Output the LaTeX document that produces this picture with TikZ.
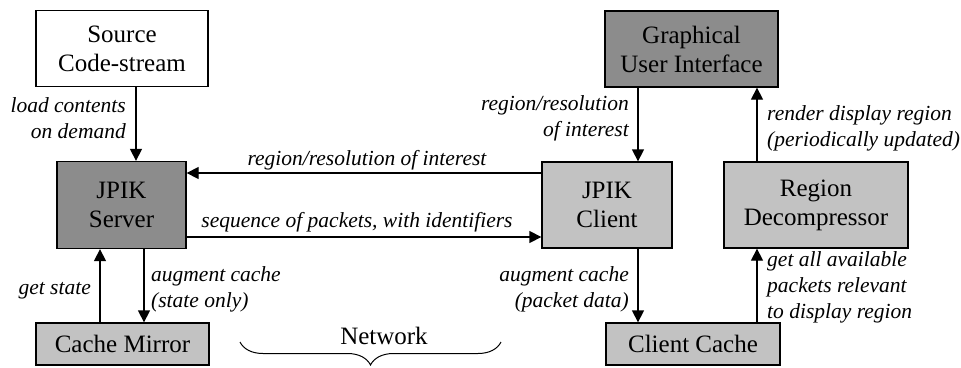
\documentclass[tikz,border=0pt]{standalone}
\usepackage{fontspec}
\setmainfont{Liberation Serif}
\usetikzlibrary{arrows.meta,decorations.pathreplacing}
\definecolor{darkfill}{gray}{0.55}
\definecolor{lightfill}{gray}{0.76}
\tikzset{
  box/.style={draw=black, line width=1.3pt, inner sep=0pt, align=center,
    font=\fontsize{25}{29}\selectfont},
  darkbox/.style={box, fill=darkfill},
  lightbox/.style={box, fill=lightfill},
  whitebox/.style={box, fill=white},
  conn/.style={line width=1.3pt, -{Triangle[length=12pt,width=12pt]}},
  lbl/.style={font=\fontsize{21.5}{26}\selectfont\itshape, inner sep=0pt},
}
\begin{document}
\begin{tikzpicture}[x=1pt,y=-1pt]
\useasboundingbox (0,0) rectangle (961,367);
% boxes
\node[whitebox, minimum width=172pt, minimum height=76pt] (src) at (122,48.5) {Source\\Code-stream};
\node[darkbox, minimum width=173pt, minimum height=76pt] (gui) at (691.5,49) {Graphical\\User Interface};
\node[darkbox, minimum width=129pt, minimum height=87pt] (server) at (121.5,205) {JPIK\\Server};
\node[lightbox, minimum width=130pt, minimum height=86pt] (client) at (607,205) {JPIK\\Client};
\node[lightbox, minimum width=184pt, minimum height=86pt] (decomp) at (816,205) {Region\\Decompressor};
\node[lightbox, minimum width=173pt, minimum height=42pt] (mirror) at (122.5,344) {Cache Mirror};
\node[lightbox, minimum width=174pt, minimum height=42pt] (ccache) at (693,344) {Client Cache};
% connectors
\draw[conn] (src.south -| 136,0) -- (server.north -| 136,0);
\draw[conn] (client.west |- 0,173) -- (server.east |- 0,173);
\draw[conn] (server.east |- 0,237) -- (client.west |- 0,237);
\draw[conn] (gui.south -| 638,0) -- (client.north -| 638,0);
\draw[conn] (client.south -| 638,0) -- (ccache.north -| 638,0);
\draw[conn] (decomp.north -| 757,0) -- (gui.south -| 757,0);
\draw[conn] (ccache.north -| 757,0) -- (decomp.south -| 757,0);
\draw[conn] (mirror.north -| 100,0) -- (server.south -| 100,0);
\draw[conn] (server.south -| 144,0) -- (mirror.north -| 144,0);
% labels
\node[lbl, anchor=east, align=right] (l1) at (126,118) {load contents\\on demand};
\node[lbl] (l2) at (367,160) {region/resolution of interest};
\node[lbl] (l3) at (357,222) {sequence of packets, with identifiers};
\node[lbl, anchor=east, align=right] (l4) at (629,118) {region/resolution\\of interest};
\node[lbl, anchor=west, align=left] (l5) at (767,128) {render display region\\(periodically updated)};
\node[lbl, anchor=east, align=right] (l6) at (629,289) {augment cache\\(packet data)};
\node[lbl, anchor=west, align=left] (l7) at (767,287.5) {get all available\\packets relevant\\to display region};
\node[lbl, anchor=east] (l8) at (91,291) {get state};
\node[lbl, anchor=west, align=left] (l9) at (151,289) {augment cache\\(state only)};
% network brace
\coordinate (b1) at (240,342);
\coordinate (b2) at (501,342);
\draw[line width=1pt, decorate, decoration={brace, mirror, amplitude=23pt, aspect=0.5}] (b1) -- (b2);
\node[font=\fontsize{25}{29}\selectfont, inner sep=0pt] (net) at (384,336) {Network};
\end{tikzpicture}
\end{document}
